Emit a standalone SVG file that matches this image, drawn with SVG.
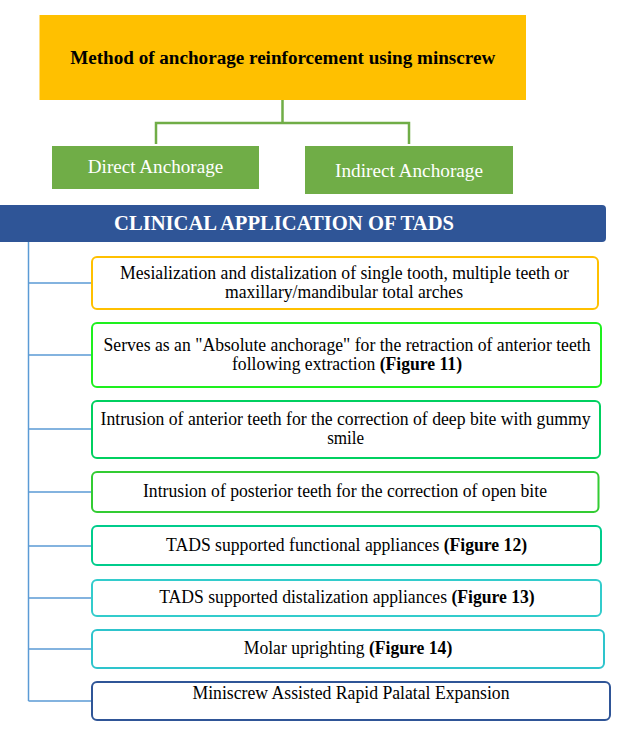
<svg xmlns="http://www.w3.org/2000/svg" width="619" height="737" viewBox="0 0 619 737">
<style>
.t{font-size:18px;fill:#000}
.b{font-weight:bold}
.w{fill:#fff;font-size:18.5px}
.box{fill:#fff;stroke-width:2}
.blue{stroke:#5B9BD5;stroke-width:1.5;fill:none}
.grn{stroke:#70AD47;stroke-width:2.5;fill:none}
</style>
<rect width="619" height="737" fill="#fff"/>
<g id="connectors">
<path class="grn" d="M282.5 100V123M156 144V123H409V144"/>
<path class="blue" d="M28.5 242V701M28.5 283H92M28.5 355H92M28.5 429H92M28.5 492H92M28.5 546H92M28.5 598H92M28.5 649H92M28.5 701H92"/>
</g>
<g id="title">
<rect x="39.5" y="15" width="486.5" height="85" fill="#FFC000"/>
<text font-family="'Liberation Serif', serif" text-anchor="middle" class="t b" x="282.7" y="64" font-size="18.5" textLength="425" lengthAdjust="spacingAndGlyphs">Method of anchorage reinforcement using minscrew</text>
</g>
<g id="direct">
<rect x="52" y="146" width="207" height="43" fill="#70AD47"/>
<text font-family="'Liberation Serif', serif" text-anchor="middle" class="w" x="155.5" y="173.3" textLength="135.5" lengthAdjust="spacingAndGlyphs">Direct Anchorage</text>
</g>
<g id="indirect">
<rect x="305" y="146" width="208" height="48" fill="#70AD47"/>
<text font-family="'Liberation Serif', serif" text-anchor="middle" class="w" x="409" y="176.7" textLength="148" lengthAdjust="spacingAndGlyphs">Indirect Anchorage</text>
</g>
<g id="banner">
<path d="M0 205H602a4 4 0 0 1 4 4V238a4 4 0 0 1-4 4H0Z" fill="#2F5597"/>
<text font-family="'Liberation Serif', serif" text-anchor="middle" class="b" x="284" y="230" font-size="20" fill="#fff" textLength="340" lengthAdjust="spacingAndGlyphs">CLINICAL APPLICATION OF TADS</text>
</g>
<g id="item1">
<rect class="box" x="92" y="257" width="506" height="52" rx="5" stroke="#FFC000"/>
<text font-family="'Liberation Serif', serif" text-anchor="middle" class="t" x="344.5" y="279.3" textLength="449" lengthAdjust="spacingAndGlyphs">Mesialization and distalization of single tooth, multiple teeth or</text>
<text font-family="'Liberation Serif', serif" text-anchor="middle" class="t" x="344" y="298.3" textLength="238" lengthAdjust="spacingAndGlyphs">maxillary/mandibular total arches</text>
</g>
<g id="item2">
<rect class="box" x="92" y="323" width="509" height="64" rx="5" stroke="#1EF01E"/>
<text font-family="'Liberation Serif', serif" text-anchor="middle" class="t" x="347" y="351" textLength="487" lengthAdjust="spacingAndGlyphs">Serves as an "Absolute anchorage" for the retraction of anterior teeth</text>
<text font-family="'Liberation Serif', serif" text-anchor="middle" class="t" x="347" y="370" textLength="230" lengthAdjust="spacingAndGlyphs">following extraction <tspan class="b">(Figure 11)</tspan></text>
</g>
<g id="item3">
<rect class="box" x="92" y="401" width="508" height="57" rx="5" stroke="#00D060"/>
<text font-family="'Liberation Serif', serif" text-anchor="middle" class="t" x="345.6" y="425" textLength="490" lengthAdjust="spacingAndGlyphs">Intrusion of anterior teeth for the correction of deep bite with gummy</text>
<text font-family="'Liberation Serif', serif" text-anchor="middle" class="t" x="345.7" y="444" textLength="37" lengthAdjust="spacingAndGlyphs">smile</text>
</g>
<g id="item4">
<rect class="box" x="92" y="472" width="506.5" height="40" rx="5" stroke="#33CC33"/>
<text font-family="'Liberation Serif', serif" text-anchor="middle" class="t" x="345" y="497" textLength="404" lengthAdjust="spacingAndGlyphs">Intrusion of posterior teeth for the correction of open bite</text>
</g>
<g id="item5">
<rect class="box" x="92" y="526" width="509" height="39" rx="5" stroke="#00CC8C"/>
<text font-family="'Liberation Serif', serif" text-anchor="middle" class="t" x="346.6" y="551" textLength="361" lengthAdjust="spacingAndGlyphs">TADS supported functional appliances <tspan class="b">(Figure 12)</tspan></text>
</g>
<g id="item6">
<rect class="box" x="92" y="580" width="509" height="36" rx="5" stroke="#33CCCC"/>
<text font-family="'Liberation Serif', serif" text-anchor="middle" class="t" x="347" y="603" textLength="375.5" lengthAdjust="spacingAndGlyphs">TADS supported distalization appliances <tspan class="b">(Figure 13)</tspan></text>
</g>
<g id="item7">
<rect class="box" x="92" y="630" width="512" height="38" rx="5" stroke="#2EC4CC"/>
<text font-family="'Liberation Serif', serif" text-anchor="middle" class="t" x="348" y="654" textLength="208.5" lengthAdjust="spacingAndGlyphs">Molar uprighting <tspan class="b">(Figure 14)</tspan></text>
</g>
<g id="item8">
<rect class="box" x="92" y="682" width="518" height="38" rx="5" stroke="#2F5597"/>
<text font-family="'Liberation Serif', serif" text-anchor="middle" class="t" x="351" y="699" textLength="317" lengthAdjust="spacingAndGlyphs">Miniscrew Assisted Rapid Palatal Expansion</text>
</g>
</svg>
